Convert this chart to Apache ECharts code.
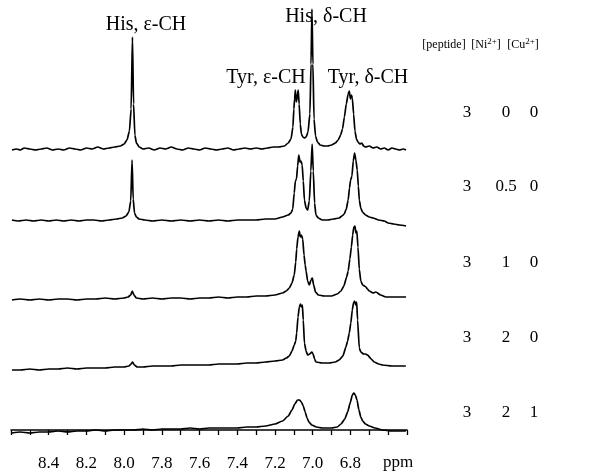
<!DOCTYPE html>
<html style="height: 100%">
<head>
    <meta charset="utf-8">
    <script src="https://cdn.jsdelivr.net/npm/echarts@6.0.0/dist/echarts.min.js"></script>
</head>
<body style="height: 100%; margin: 0; background: #fff">
    <div id="main" style="width:590px;height:472px;"></div>
    <script type="text/javascript">
    // chemical shift (ppm), intensity above baseline
    var spec1 = [[8.595,-1],[8.57,0],[8.55,-1],[8.53,1],[8.50,0],[8.47,-1],[8.44,0],[8.41,1],[8.38,-1],[8.35,0],[8.32,-1],[8.29,1],[8.26,0],[8.23,-1],[8.20,1],[8.17,0],[8.14,2],[8.11,0],[8.08,1],[8.05,2],[8.02,3],[8.00,5],[7.985,9],[7.972,18],[7.963,40],[7.956,112],[7.950,45],[7.943,14],[7.935,6],[7.92,2],[7.90,0],[7.87,1],[7.84,-1],[7.81,1],[7.78,0],[7.75,2],[7.72,0],[7.69,-1],[7.66,1],[7.63,0],[7.60,-1],[7.57,1],[7.54,0],[7.51,-1],[7.48,0],[7.45,1],[7.42,-1],[7.39,0],[7.36,1],[7.33,0],[7.30,1],[7.27,0],[7.24,1],[7.21,2],[7.18,2],[7.15,3],[7.13,6],[7.115,10],[7.105,22],[7.100,40],[7.096,50],[7.092,59],[7.087,47],[7.082,52],[7.077,59],[7.072,45],[7.066,25],[7.06,15],[7.052,12],[7.045,11],[7.035,12],[7.025,17],[7.015,35],[7.009,85],[7.004,140],[6.999,85],[6.993,30],[6.985,13],[6.975,7],[6.96,4],[6.94,3],[6.92,3],[6.90,4],[6.88,6],[6.865,9],[6.852,14],[6.842,20],[6.832,32],[6.822,45],[6.812,55],[6.806,58],[6.800,50],[6.795,54],[6.790,51],[6.783,35],[6.776,18],[6.768,10],[6.76,7],[6.75,5],[6.74,6],[6.73,3],[6.72,2],[6.70,3],[6.68,1],[6.66,2],[6.64,0],[6.62,1],[6.60,-1],[6.58,1],[6.56,0],[6.54,-1],[6.52,0],[6.505,-1]];
    var spec2 = [[8.595,1],[8.56,0],[8.52,1],[8.48,0],[8.44,1],[8.40,0],[8.36,1],[8.32,0],[8.28,1],[8.24,0],[8.20,1],[8.16,1],[8.12,0],[8.08,1],[8.04,2],[8.01,3],[7.99,5],[7.975,9],[7.965,20],[7.958,61],[7.952,22],[7.945,8],[7.935,4],[7.92,2],[7.89,1],[7.85,0],[7.80,1],[7.75,0],[7.70,1],[7.65,0],[7.60,1],[7.55,0],[7.50,1],[7.45,0],[7.40,1],[7.35,1],[7.30,1],[7.25,2],[7.20,2],[7.16,4],[7.13,6],[7.115,8],[7.106,12],[7.098,28],[7.092,40],[7.086,42],[7.080,55],[7.074,66],[7.067,59],[7.062,60],[7.056,56],[7.05,40],[7.044,21],[7.035,13],[7.027,11],[7.018,20],[7.010,50],[7.003,77],[6.997,50],[6.990,18],[6.983,6],[6.97,3],[6.95,1],[6.92,1],[6.89,2],[6.86,3],[6.845,5],[6.833,7],[6.822,12],[6.812,21],[6.805,33],[6.799,41],[6.792,45],[6.785,60],[6.778,68],[6.771,61],[6.764,51],[6.758,35],[6.753,21],[6.745,13],[6.736,9],[6.72,6],[6.70,4],[6.68,3],[6.65,1],[6.62,0],[6.60,-2],[6.57,-3],[6.54,-4],[6.505,-5]];
    var spec3 = [[8.595,-3],[8.55,-2],[8.50,-3],[8.45,-2],[8.40,-3],[8.35,-2],[8.30,-2],[8.25,-3],[8.20,-2],[8.15,-2],[8.10,-1],[8.05,-2],[8.00,-1],[7.98,0],[7.965,2],[7.957,6],[7.948,2],[7.935,-1],[7.90,-2],[7.85,-1],[7.80,-2],[7.75,-1],[7.70,-1],[7.65,-2],[7.60,-1],[7.55,-1],[7.50,0],[7.45,-1],[7.40,0],[7.35,0],[7.30,1],[7.25,1],[7.20,2],[7.16,4],[7.14,6],[7.124,9],[7.11,14],[7.098,22],[7.09,35],[7.085,48],[7.078,60],[7.071,66],[7.066,60],[7.060,62],[7.053,58],[7.046,42],[7.04,32],[7.035,26],[7.027,16],[7.018,12],[7.009,17],[7.002,19],[6.995,12],[6.985,5],[6.97,2],[6.94,1],[6.90,1],[6.87,3],[6.85,6],[6.835,11],[6.82,20],[6.812,26],[6.803,38],[6.795,50],[6.788,62],[6.782,70],[6.776,71],[6.771,64],[6.766,66],[6.760,50],[6.753,28],[6.745,16],[6.735,12],[6.725,11],[6.718,10],[6.71,8],[6.70,6],[6.68,4],[6.665,5],[6.64,2],[6.612,0],[6.58,0],[6.55,0],[6.505,0]];
    var spec4 = [[8.595,-5],[8.55,-5],[8.50,-4],[8.45,-5],[8.40,-4],[8.35,-4],[8.30,-3],[8.25,-4],[8.20,-3],[8.15,-3],[8.10,-3],[8.05,-2],[8.00,-2],[7.975,-1],[7.963,1],[7.955,3],[7.946,0],[7.93,-2],[7.90,-2],[7.85,-1],[7.80,-1],[7.75,-1],[7.70,0],[7.65,0],[7.60,0],[7.55,0],[7.50,1],[7.45,1],[7.40,1],[7.35,2],[7.30,2],[7.25,3],[7.20,4],[7.16,5],[7.14,7],[7.124,9],[7.11,14],[7.098,20],[7.09,24],[7.085,32],[7.078,48],[7.071,58],[7.065,61],[7.060,58],[7.055,60],[7.05,45],[7.044,22],[7.035,14],[7.027,10],[7.016,11],[7.005,13],[6.998,11],[6.99,6],[6.983,3],[6.95,2],[6.913,2],[6.88,3],[6.86,5],[6.84,9],[6.824,18],[6.815,24],[6.806,32],[6.798,42],[6.790,55],[6.784,62],[6.778,64],[6.772,60],[6.767,63],[6.762,45],[6.753,17],[6.745,13],[6.73,11],[6.72,11],[6.709,10],[6.69,6],[6.674,3],[6.65,1],[6.63,0],[6.58,-1],[6.54,-1],[6.506,-1]];
    var spec5 = [[8.595,-3],[8.55,-2],[8.50,-3],[8.45,-2],[8.40,-2],[8.35,-1],[8.30,-2],[8.25,-1],[8.20,-1],[8.15,0],[8.10,-1],[8.05,0],[8.00,0],[7.95,0],[7.90,1],[7.85,0],[7.80,1],[7.75,1],[7.70,1],[7.65,2],[7.60,1],[7.55,2],[7.50,2],[7.45,2],[7.40,2],[7.35,3],[7.30,3],[7.25,4],[7.20,6],[7.16,9],[7.13,14],[7.11,20],[7.095,26],[7.08,30],[7.07,30],[7.06,28],[7.05,24],[7.04,18],[7.03,12],[7.02,8],[7.005,5],[6.98,3],[6.95,2],[6.90,2],[6.87,3],[6.85,6],[6.83,11],[6.815,18],[6.80,28],[6.79,35],[6.782,37],[6.774,35],[6.765,30],[6.755,20],[6.745,13],[6.735,9],[6.72,6],[6.70,4],[6.67,2],[6.63,0],[6.58,-1],[6.506,-1]];
    var spectra = [spec1, spec2, spec3, spec4, spec5];

    var peptide = ['3', '3', '3', '3', '3'];
    var nickel = ['0', '0.5', '1', '2', '2'];
    var copper = ['0', '0', '0', '0', '1'];
    var peakLabels = ['His, ε-CH', 'His, δ-CH', 'Tyr, ε-CH', 'Tyr, δ-CH'];

    var baselines = [149, 221, 297, 365, 430];
    var rowY = [113, 187, 263, 338, 413];
    var labelPos = [[146, 25], [326, 17], [266, 78], [368, 78]];
    var serif = '"Liberation Serif", "DejaVu Serif", serif';

    var grids = [], xAxes = [], yAxes = [], series = [];
    for (var i = 0; i < spectra.length; i++) {
        grids.push({ left: 11, width: 396, top: baselines[i] - 143, height: 160, outerBoundsMode: 'none' });
        var last = i == spectra.length - 1;
        xAxes.push({
            gridIndex: i, type: 'value', min: 6.5, max: 8.6, interval: 0.1, inverse: true,
            show: last,
            axisLine: { show: true, lineStyle: { color: '#000', width: 1.5 } },
            axisTick: { show: true, inside: false, length: 5, lineStyle: { color: '#000', width: 1.3 } },
            splitLine: { show: false },
            axisLabel: {
                show: true, color: '#000', fontFamily: serif, fontSize: 17, margin: 8,
                formatter: function(v) {
                    var k = Math.round(v * 10);
                    if (k % 2 != 0 || k == 86 || k == 66) return '';
                    return (k / 10).toFixed(1);
                }
            }
        });
        yAxes.push({ gridIndex: i, type: 'value', min: -17, max: 143, show: false, splitLine: { show: false } });
        series.push({
            type: 'line', xAxisIndex: i, yAxisIndex: i, data: spectra[i],
            showSymbol: false, smooth: 0.2, smoothMonotone: 'x', silent: true,
            lineStyle: { color: '#000', width: 1.7 }
        });
    }

    var graphic = [];
    peakLabels.forEach(function(t, j) {
        graphic.push({ type: 'text', x: labelPos[j][0], y: labelPos[j][1],
            style: { text: t, fill: '#000', font: '20px ' + serif, textAlign: 'center', textVerticalAlign: 'middle' } });
    });
    var heads = [['[peptide]', 444], ['[Ni{s|2+}]', 486], ['[Cu{s|2+}]', 523]];
    heads.forEach(function(h) {
        graphic.push({ type: 'text', x: h[1], y: 45,
            style: { text: h[0], fill: '#000', font: '12px ' + serif, textAlign: 'center', textVerticalAlign: 'middle',
                rich: { s: { fontSize: 9, fontFamily: serif, padding: [0, 0, 7, 0] } } } });
    });
    for (var r = 0; r < rowY.length; r++) {
        [[peptide[r], 467], [nickel[r], 506], [copper[r], 534]].forEach(function(c) {
            graphic.push({ type: 'text', x: c[1], y: rowY[r],
                style: { text: c[0], fill: '#000', font: '17px ' + serif, textAlign: 'center', textVerticalAlign: 'middle' } });
        });
    }
    graphic.push({ type: 'text', x: 398, y: 463,
        style: { text: 'ppm', fill: '#000', font: '17px ' + serif, textAlign: 'center', textVerticalAlign: 'middle' } });

    var myChart = echarts.init(document.getElementById('main'));
    myChart.setOption({
        animation: false,
        backgroundColor: '#fff',
        grid: grids,
        xAxis: xAxes,
        yAxis: yAxes,
        series: series,
        graphic: graphic
    });
    </script>
</body>
</html>
